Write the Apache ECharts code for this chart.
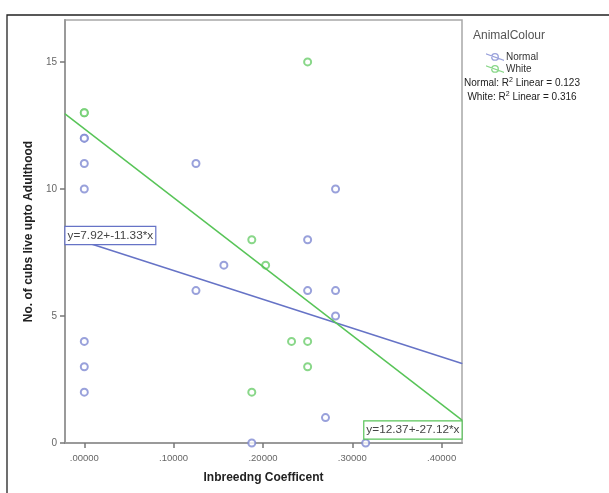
<!DOCTYPE html>
<html>
<head>
<meta charset="utf-8">
<title>Cubs surviving to adulthood vs inbreeding coefficient</title>
<script src="https://cdn.jsdelivr.net/npm/echarts@6/dist/echarts.min.js"></script>
<style>
  html, body { margin: 0; padding: 0; background: #fff; }
  #chart { width: 609px; height: 493px; }
</style>
</head>
<body>
<div id="chart"></div>
<script>
// Inbreeding coefficient (x) and number of cubs that lived to adulthood (y)
const normalX = [0, 0, 0, 0, 0, 0, 0, 0.125, 0.125, 0.15625, 0.1875, 0.25, 0.25, 0.28125, 0.28125, 0.28125, 0.27, 0.315];
const normalY = [12, 12, 11, 10, 4, 3, 2, 11, 6, 7, 0, 8, 6, 10, 6, 5, 1, 0];
const whiteX = [0, 0, 0.1875, 0.1875, 0.203, 0.232, 0.25, 0.25, 0.25];
const whiteY = [13, 13, 8, 2, 7, 4, 4, 3, 15];

// Linear fits: [intercept, slope] and R squared
const normalFit = [7.92, -11.33];
const whiteFit = [12.37, -27.12];
const normalR2 = '0.123';
const whiteR2 = '0.316';

const seriesNames = ['Normal', 'White'];
const xTicks = [0, 0.1, 0.2, 0.3, 0.4];
const yTicks = [0, 5, 10, 15];
const xRange = [-0.0216, 0.4228];
const yRange = [0, 16.65];

const FONT = 'Arial, "Liberation Sans", sans-serif';
const BLUE_PT = '#7f8ad2';
const BLUE_LN = '#6673c6';
const GREEN_PT = '#6ccd6c';
const GREEN_LN = '#58c458';

const pairs = (xs, ys) => xs.map((x, i) => [x, ys[i]]);
const fitLine = (fit) => xRange.map(x => [x, fit[0] + fit[1] * x]);
const fitText = (fit) => 'y=' + fit[0].toFixed(2) + '+' + fit[1].toFixed(2) + '*x';

// legend glyph: ring with a stroke through it
const legendIcon = 'path://M12.5,5 A3.5,3.5 0 1,1 5.5,5 A3.5,3.5 0 1,1 12.5,5 Z ' +
  'M11.3,5 A2.3,2.3 0 1,0 6.7,5 A2.3,2.3 0 1,0 11.3,5 Z ' +
  'M1,1.8 L17,7.6 L17,8.7 L1,2.9 Z';

const chart = echarts.init(document.getElementById('chart'), null, { renderer: 'canvas' });

const labelBox = (color) => ({
  show: true,
  color: '#444',
  fontFamily: FONT,
  fontSize: 11.8,
  backgroundColor: '#fff',
  borderColor: color,
  borderWidth: 1.2,
  padding: [3, 2, 2, 2]
});

// equation boxes sit on the end points of each fit line
const normalLine = fitLine(normalFit).map((p, i) => i === 0
  ? { value: p, label: Object.assign(labelBox(BLUE_LN), { formatter: fitText(normalFit), position: 'right', distance: 0 }) }
  : { value: p });
const whiteLine = fitLine(whiteFit).map((p, i) => i === 1
  ? { value: p, label: Object.assign(labelBox(GREEN_LN), { formatter: fitText(whiteFit), position: 'left', distance: 0, offset: [0, 10] }) }
  : { value: p });

const option = {
  animation: false,
  backgroundColor: '#fff',
  textStyle: { fontFamily: FONT },
  title: {
    text: 'AnimalColour',
    left: 468, top: 25,
    textStyle: { fontFamily: FONT, fontSize: 12, fontWeight: 'normal', color: '#555' }
  },
  legend: {
    data: seriesNames,
    orient: 'vertical',
    left: 481, top: 47,
    itemWidth: 18, itemHeight: 10, itemGap: 2,
    icon: legendIcon,
    itemStyle: { borderWidth: 0 },
    textStyle: { fontFamily: FONT, fontSize: 10, color: '#333', padding: [0, 0, 0, -3] }
  },
  grid: {
    left: 65, right: 147, top: 20, bottom: 50,
    show: true, borderColor: '#a8a8a8', borderWidth: 1.5, backgroundColor: '#fff'
  },
  xAxis: {
    type: 'value',
    min: xRange[0], max: xRange[1],
    name: 'Inbreedng Coefficent',
    nameLocation: 'middle', nameGap: 29,
    nameTextStyle: { fontFamily: FONT, fontSize: 12, fontWeight: 'bold', color: '#222' },
    axisLine: { show: true, onZero: false, lineStyle: { color: '#9a9a9a', width: 2 } },
    axisTick: { show: true, customValues: xTicks, length: 5, lineStyle: { color: '#777', width: 1.5 } },
    axisLabel: {
      customValues: xTicks, margin: 10,
      fontFamily: FONT, fontSize: 9.5, color: '#666',
      formatter: v => '.' + v.toFixed(5).slice(2)
    },
    splitLine: { show: false }
  },
  yAxis: {
    type: 'value',
    min: yRange[0], max: yRange[1],
    name: 'No. of cubs live upto Adulthood',
    nameLocation: 'middle', nameGap: 29,
    nameTextStyle: { fontFamily: FONT, fontSize: 12, fontWeight: 'bold', color: '#222' },
    axisLine: { show: true, onZero: false, lineStyle: { color: '#9a9a9a', width: 2 } },
    axisTick: { show: true, customValues: yTicks, length: 5, lineStyle: { color: '#777', width: 1.5 } },
    axisLabel: {
      customValues: yTicks, margin: 8,
      fontFamily: FONT, fontSize: 10, color: '#666'
    },
    splitLine: { show: false }
  },
  graphic: [
    { type: 'rect', shape: { x: 7, y: 15, width: 700, height: 600 }, style: { fill: 'none', stroke: '#222', lineWidth: 1.3 }, silent: true, z: 100 },
    {
      type: 'text', x: 522, y: 83, silent: true,
      style: {
        text: 'Normal: R{s|2} Linear = ' + normalR2,
        align: 'center', verticalAlign: 'middle',
        font: '10px ' + FONT, fill: '#222',
        rich: { s: { fontSize: 7, verticalAlign: 'top', padding: [0, 0, 5, 0] } }
      }
    },
    {
      type: 'text', x: 522, y: 97, silent: true,
      style: {
        text: 'White: R{s|2} Linear = ' + whiteR2,
        align: 'center', verticalAlign: 'middle',
        font: '10px ' + FONT, fill: '#222',
        rich: { s: { fontSize: 7, verticalAlign: 'top', padding: [0, 0, 5, 0] } }
      }
    }
  ],
  series: [
    {
      name: seriesNames[0], type: 'scatter',
      symbol: 'emptyCircle', symbolSize: 7,
      color: BLUE_PT,
      itemStyle: { color: BLUE_PT, borderWidth: 1.4 },
      data: pairs(normalX, normalY), z: 2
    },
    {
      name: seriesNames[1], type: 'scatter',
      symbol: 'emptyCircle', symbolSize: 7,
      color: GREEN_PT,
      itemStyle: { color: GREEN_PT, borderWidth: 1.4 },
      data: pairs(whiteX, whiteY), z: 2
    },
    {
      name: 'Normal fit', type: 'line',
      showSymbol: true, symbol: 'circle', symbolSize: 1,
      itemStyle: { color: BLUE_LN },
      lineStyle: { color: BLUE_LN, width: 1.5 },
      label: { show: false },
      data: normalLine, z: 3
    },
    {
      name: 'White fit', type: 'line',
      showSymbol: true, symbol: 'circle', symbolSize: 1,
      itemStyle: { color: GREEN_LN },
      lineStyle: { color: GREEN_LN, width: 1.5 },
      label: { show: false },
      data: whiteLine, z: 3
    }
  ]
};

chart.setOption(option);
</script>
</body>
</html>
